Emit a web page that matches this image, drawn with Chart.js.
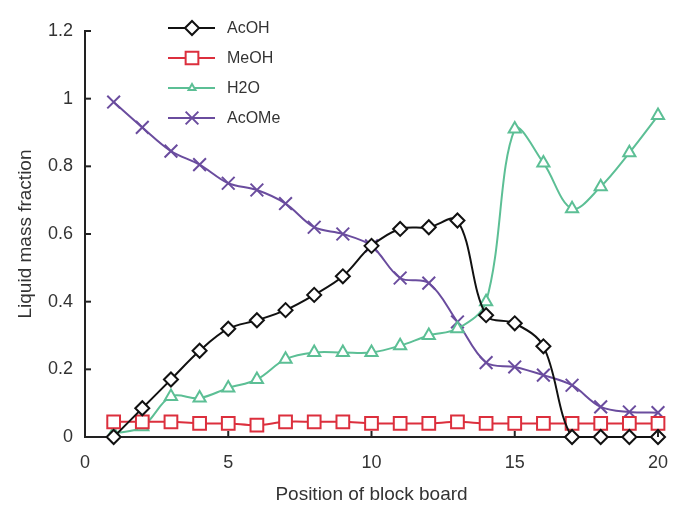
<!DOCTYPE html>
<html>
<head>
<meta charset="utf-8">
<script src="https://cdn.jsdelivr.net/npm/chart.js@4.4.1/dist/chart.umd.min.js"></script>
<style>
  html, body { margin: 0; padding: 0; background: #fff; }
  #wrap { width: 685px; height: 507px; }
</style>
</head>
<body>
<div id="wrap"><canvas id="chart"></canvas></div>
<script>
const positions = [1, 2, 3, 4, 5, 6, 7, 8, 9, 10, 11, 12, 13, 14, 15, 16, 17, 18, 19, 20];
const acoh  = [0, 0.085, 0.17, 0.255, 0.32, 0.345, 0.375, 0.42, 0.475, 0.565, 0.615, 0.62, 0.64, 0.36, 0.336, 0.268, 0, 0, 0, 0];
const meoh  = [0.045, 0.045, 0.045, 0.04, 0.04, 0.035, 0.045, 0.045, 0.045, 0.04, 0.04, 0.04, 0.045, 0.04, 0.04, 0.04, 0.04, 0.04, 0.04, 0.04];
const h2o   = [0.01, 0.03, 0.12, 0.115, 0.145, 0.17, 0.23, 0.25, 0.25, 0.25, 0.27, 0.30, 0.32, 0.40, 0.91, 0.81, 0.675, 0.74, 0.84, 0.95];
const acome = [0.99, 0.915, 0.845, 0.805, 0.75, 0.73, 0.69, 0.62, 0.60, 0.565, 0.47, 0.455, 0.34, 0.22, 0.207, 0.183, 0.153, 0.089, 0.074, 0.072];

const seriesNames = ['AcOH', 'MeOH', 'H2O', 'AcOMe'];
const xTitle = 'Position of block board';
const yTitle = 'Liquid mass fraction';

const toPoints = vals => vals.map((v, i) => ({ x: positions[i], y: v }));

const styles = [
    { color: '#111111', point: 'rectRot', radius: 7, legendRadius: 7 },
    { color: '#dc2f3d', point: 'rect', radius: 9, legendRadius: 9 },
    { color: '#5cbf95', point: 'triangle', radius: 7, legendRadius: 4 },
    { color: '#6a4c9e', point: 'crossRot', radius: 9, legendRadius: 9 },
];

const datasets = [acoh, meoh, h2o, acome].map((vals, i) => ({
    label: seriesNames[i],
    data: toPoints(vals),
    borderColor: styles[i].color,
    backgroundColor: styles[i].color,
    borderWidth: 2,
    tension: 0.35,
    clip: false,
    pointStyle: styles[i].point,
    pointRadius: styles[i].radius,
    pointBorderWidth: 2,
    pointBorderColor: styles[i].color,
    pointBackgroundColor: '#ffffff',
}));

// inward tick marks on both axes
const innerTicks = {
    id: 'innerTicks',
    afterDraw(chart) {
        const { ctx, chartArea, scales } = chart;
        ctx.save();
        ctx.strokeStyle = '#222';
        ctx.lineWidth = 2;
        scales.y.ticks.forEach(t => {
            const py = scales.y.getPixelForValue(t.value);
            ctx.beginPath();
            ctx.moveTo(chartArea.left, py);
            ctx.lineTo(chartArea.left + 6, py);
            ctx.stroke();
        });
        scales.x.ticks.forEach(t => {
            const px = scales.x.getPixelForValue(t.value);
            ctx.beginPath();
            ctx.moveTo(px, chartArea.bottom);
            ctx.lineTo(px, chartArea.bottom - 6);
            ctx.stroke();
        });
        ctx.restore();
    }
};

// legend drawn as line-through-marker, like the spreadsheet one
const lineLegend = {
    id: 'lineLegend',
    afterDraw(chart) {
        const { ctx } = chart;
        ctx.save();
        chart.data.datasets.forEach((ds, i) => {
            const y = 28 + i * 30;
            ctx.strokeStyle = ds.borderColor;
            ctx.lineWidth = 2;
            ctx.beginPath();
            ctx.moveTo(168, y);
            ctx.lineTo(215, y);
            ctx.stroke();
            ctx.fillStyle = '#ffffff';
            Chart.helpers.drawPoint(ctx, {
                pointStyle: styles[i].point,
                radius: styles[i].legendRadius,
                borderWidth: 2,
                rotation: 0
            }, 192, y);
            ctx.fillStyle = '#333';
            ctx.font = '16px "Liberation Sans", Arial, sans-serif';
            ctx.textBaseline = 'middle';
            ctx.fillText(ds.label, 227, y + 1);
        });
        ctx.restore();
    }
};

new Chart(document.getElementById('chart'), {
    type: 'line',
    data: { datasets },
    options: {
        responsive: true,
        maintainAspectRatio: false,
        animation: false,
        layout: { padding: { left: 0, top: 31, right: 27, bottom: 0 } },
        plugins: {
            legend: { display: false },
            tooltip: { enabled: false }
        },
        scales: {
            x: {
                type: 'linear',
                min: 0,
                max: 20,
                afterFit: s => { s.height = 70; },
                ticks: {
                    stepSize: 5,
                    padding: 15,
                    color: '#333',
                    font: { family: '"Liberation Sans", Arial, sans-serif', size: 18 }
                },
                grid: { display: true, drawOnChartArea: false, drawTicks: false },
                border: { display: true, color: '#222', width: 2 },
                title: {
                    display: true,
                    text: xTitle,
                    color: '#333',
                    padding: { top: 0, bottom: 1 },
                    font: { family: '"Liberation Sans", Arial, sans-serif', size: 19 }
                }
            },
            y: {
                min: 0,
                max: 1.2,
                afterFit: s => { s.width = 85; },
                ticks: {
                    stepSize: 0.2,
                    padding: 12,
                    color: '#333',
                    font: { family: '"Liberation Sans", Arial, sans-serif', size: 18 },
                    callback: v => String(Math.round(v * 10) / 10)
                },
                grid: { display: true, drawOnChartArea: false, drawTicks: false },
                border: { display: true, color: '#222', width: 2 },
                title: {
                    display: true,
                    text: yTitle,
                    color: '#333',
                    padding: { top: 14, bottom: 0 },
                    font: { family: '"Liberation Sans", Arial, sans-serif', size: 19 }
                }
            }
        }
    },
    plugins: [innerTicks, lineLegend]
});
</script>
</body>
</html>
